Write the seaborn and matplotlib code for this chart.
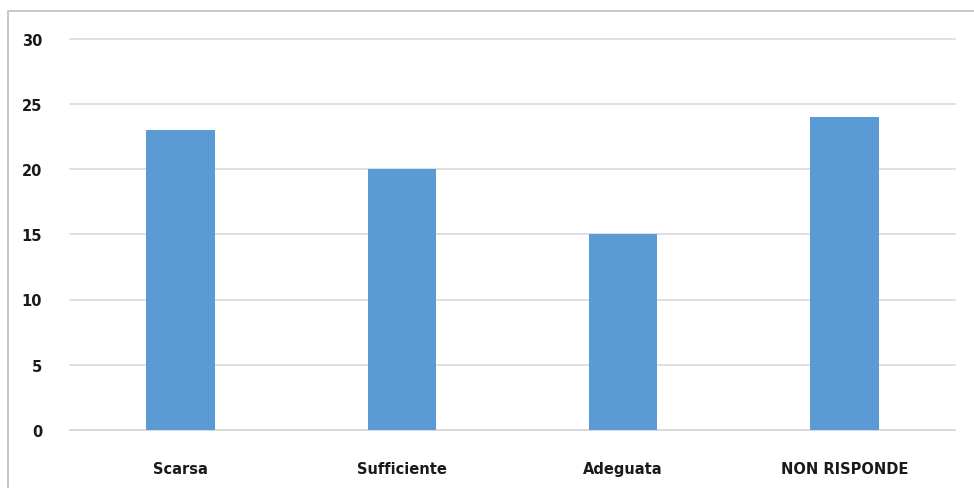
import matplotlib
matplotlib.use("Agg")
import matplotlib.pyplot as plt
import seaborn as sns
import pandas as pd
from matplotlib.patches import Rectangle

categories = ["Scarsa", "Sufficiente", "Adeguata", "NON RISPONDE"]
values = [23, 20, 15, 24]
yticks = [0, 5, 10, 15, 20, 25, 30]

sns.set_theme(style="white")
plt.rcParams['font.family'] = ['DejaVu Sans']

df = pd.DataFrame({"cat": categories, "val": values})

fig = plt.figure(figsize=(9.74, 4.89), dpi=100)
ax = fig.add_axes([70/974, 58/489, 885/974, (431-39.5)/489])

sns.barplot(data=df, x="cat", y="val", color="#5B9BD5", width=0.31,
            saturation=1, ax=ax, zorder=3, linewidth=0)

ax.set_ylim(0, 30)
ax.set_yticks(yticks)
ax.set_yticklabels([str(t) for t in yticks], fontsize=10.5, fontweight="bold", color="#1a1a1a")
ax.set_xticklabels(categories, fontsize=10.5, fontweight="bold", color="#1a1a1a")
ax.set_xlabel("")
ax.set_ylabel("")
ax.yaxis.grid(True, color="#D9D9D9", linewidth=1.2, zorder=0)
for gl in ax.get_ygridlines():
    gl.set_clip_on(False)
ax.xaxis.grid(False)
for s in ["top", "right", "left"]:
    ax.spines[s].set_visible(False)
ax.spines["bottom"].set_color("#D9D9D9")
ax.spines["bottom"].set_linewidth(1.2)
ax.tick_params(axis="y", length=0, pad=20)
ax.tick_params(axis="x", length=0, pad=22)

fig.patches.append(Rectangle((8/974, -0.1), 1.2, (489-12)/489 + 0.1,
                             transform=fig.transFigure, fill=False,
                             edgecolor="#BFBFBF", linewidth=1.2, zorder=0))

fig.savefig("out.png", dpi=100)
